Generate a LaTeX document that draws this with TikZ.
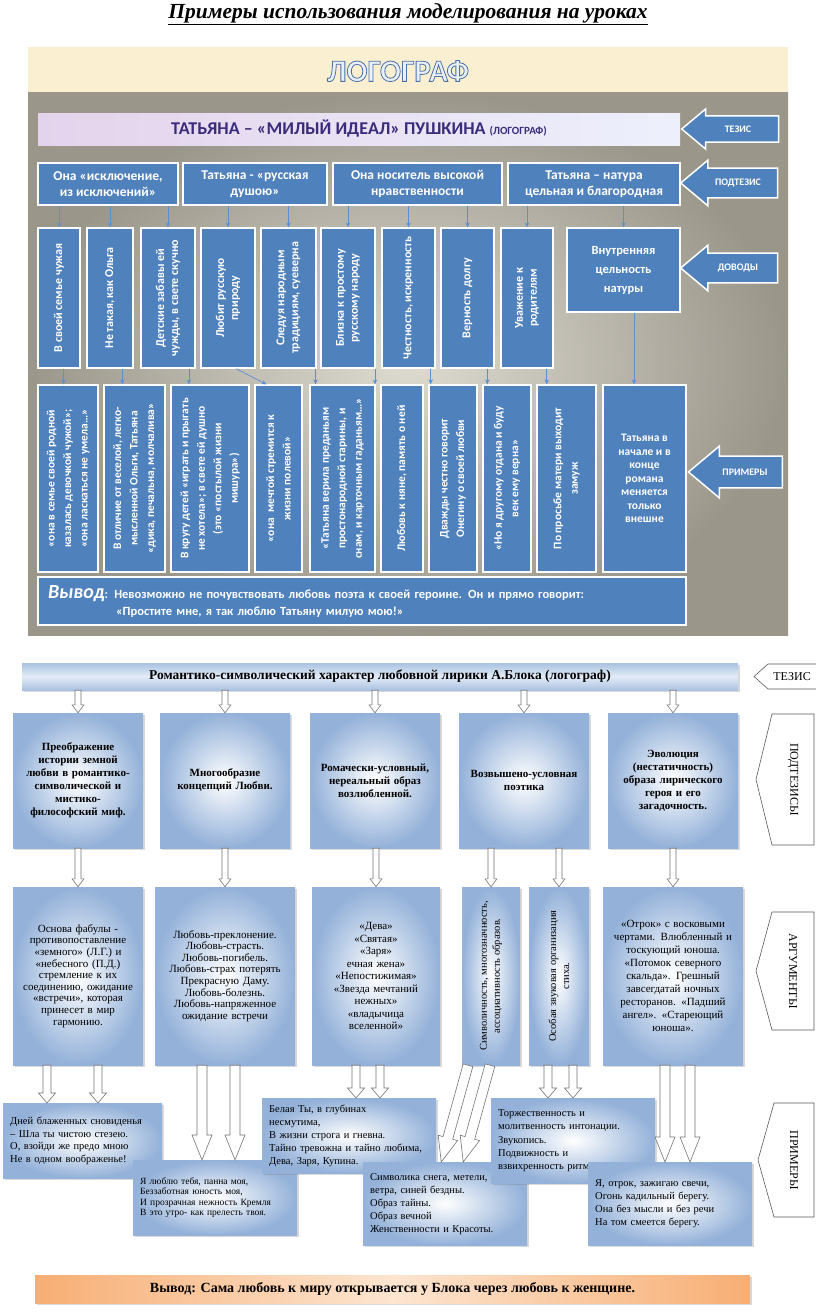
\documentclass[tikz,border=0pt]{standalone}
\usepackage{fontspec}
\setmainfont{Liberation Serif}
\newfontfamily\calfont{Carlito}
\usepackage{graphicx}
\usetikzlibrary{positioning,calc,arrows.meta,shapes.arrows,shadows}

\definecolor{panelgray}{HTML}{9A968A}
\definecolor{panellight}{HTML}{DEDBD1}
\definecolor{cream}{HTML}{FBEFD2}
\definecolor{boxblue}{HTML}{4F81BD}
\definecolor{arrblue}{HTML}{5B8FD3}
\definecolor{thesisink}{HTML}{3A2C7A}
\definecolor{thesisleft}{HTML}{E4D3EC}
\definecolor{thesisright}{HTML}{EDF0FC}
\definecolor{logofill}{HTML}{E9F0FA}
\definecolor{blokblue}{HTML}{93B1D9}
\definecolor{blokbar}{HTML}{A9C2E1}
\definecolor{blokbarlight}{HTML}{E3ECF7}
\definecolor{orangebar}{HTML}{F7AE74}
\definecolor{orangelight}{HTML}{FDE5D0}

\newcommand\fs[2]{\fontsize{#1}{#2}\selectfont}
\newcommand\vtext[2]{\rotatebox{90}{\parbox{#1}{\centering #2}}}
\newcommand\outlined[1]{\special{pdf:literal direct 0.29 0.44 0.65 RG 0.8 w 2 Tr}#1\special{pdf:literal direct 0 Tr}}

\def\shw{3pt}\def\hdlen{8pt}\def\hdwid{6pt}

\tikzset{
  tbox/.style={draw=white, line width=1.3pt, fill=boxblue, text=white, inner sep=0pt,
    align=center, font=\calfont\bfseries\fs{12}{14}},
  arr/.style={draw=arrblue, line width=0.7pt, -{Stealth[length=5pt,width=4.5pt]}},
  tagarrow/.style={single arrow, shape border rotate=180, fill=boxblue, draw=white,
    line width=1.5pt, text=white, font=\calfont\bfseries\fs{10}{12},
    single arrow tip angle=80, inner xsep=4pt},
  bbox/.style={inner color=white, outer color=blokblue, inner sep=0pt, align=center,
    drop shadow={opacity=0.3, shadow xshift=2pt, shadow yshift=-2pt}},
  exbox/.style={bbox, anchor=north west, align=left, inner xsep=7pt, font=\fs{10.5}{12.5}},
  bluebar/.style={top color=blokbar, bottom color=blokbar, middle color=blokbarlight,
    minimum width=716, minimum height=27, inner sep=0pt, font=\bfseries\fs{13.5}{15},
    drop shadow={opacity=0.3, shadow xshift=2pt, shadow yshift=-2pt}},
  orangebar/.style={left color=orangebar, right color=orangebar, middle color=orangelight,
    minimum width=715, minimum height=28, inner sep=0pt, font=\bfseries\fs{14}{15},
    drop shadow={opacity=0.3, shadow xshift=2pt, shadow yshift=-2pt}},
  ptr/.style={draw=black!65, fill=white, line width=0.6pt},
  hollow/.style={draw=black!55, fill=white, line width=0.6pt, to path={
    let \p1=(\tikztostart), \p2=(\tikztotarget),
        \n1={atan2(\y2-\y1,\x2-\x1)} in
    ($(\p1)+(\n1+90:\shw)$) --
    ($(\p2)+(\n1+180:\hdlen)+(\n1+90:\shw)$) --
    ($(\p2)+(\n1+180:\hdlen)+(\n1+90:\hdwid)$) --
    (\p2) --
    ($(\p2)+(\n1+180:\hdlen)+(\n1-90:\hdwid)$) --
    ($(\p2)+(\n1+180:\hdlen)+(\n1-90:\shw)$) --
    ($(\p1)+(\n1-90:\shw)$) -- cycle}},
  midhead/.code={\def\hdlen{10pt}\def\hdwid{8.5pt}\def\shw{4pt}},
  bighead/.code={\def\hdlen{25pt}\def\hdwid{10pt}\def\shw{5pt}},
}

\begin{document}
\begin{tikzpicture}[x=1pt, y=-1pt]
  \useasboundingbox (0,0) rectangle (816,1314);

  % upper picture: Pushkin
  \node[font=\bfseries\itshape\fs{21.5}{22}] (title) at (408,14)
    {\underline{Примеры использования моделирования на уроках}};
  \shade[inner color=panellight, outer color=panelgray] (28,92) rectangle (788,635);
  \fill[cream] (28,47) rectangle (788,92);
  \node[font=\calfont\bfseries\fs{31}{30}, text=logofill] (logo) at (398,71) {\outlined{ЛОГОГРАФ}};

  \node[left color=thesisleft, right color=thesisright, minimum width=642, minimum height=32,
    inner sep=0pt, text=thesisink, font=\calfont\bfseries\fs{18}{20}] (tt) at (359,129)
    {ТАТЬЯНА – «МИЛЫЙ ИДЕАЛ» ПУШКИНА {\fs{11}{13}(ЛОГОГРАФ)}};

  \node[tagarrow, minimum height=97pt, inner ysep=9pt, single arrow head extend=7pt] (tez) at (738,129) {ТЕЗИС};
  \node[tagarrow, minimum height=97pt, inner ysep=10pt, single arrow head extend=8pt] (podtez) at (738,183) {ПОДТЕЗИС};
  \node[tagarrow, minimum height=97pt, inner ysep=10pt, single arrow head extend=8pt] (dovody) at (738,268) {ДОВОДЫ};
  \node[tagarrow, minimum height=94pt, inner ysep=12pt, single arrow head extend=10pt] (primery) at (745,472) {ПРИМЕРЫ};

  \node[tbox, minimum width=140, minimum height=42, font=\calfont\bfseries\fs{13.5}{16}] (s1) at (108,184) {Она «исключение,\\из исключений»};
  \node[tbox, minimum width=144, minimum height=42, font=\calfont\bfseries\fs{13.5}{16}] (s2) at (255,184) {Татьяна - «русская\\душою»};
  \node[tbox, minimum width=169, minimum height=42, font=\calfont\bfseries\fs{13.5}{16}] (s3) at (417.5,184) {Она носитель высокой\\нравственности};
  \node[tbox, minimum width=172, minimum height=42, font=\calfont\bfseries\fs{13.5}{16}] (s4) at (594,184) {Татьяна – натура\\цельная и благородная};

  \node[tbox, minimum width=42, minimum height=140] (d1) at (59,298) {\vtext{132pt}{В своей семье чужая}};
  \node[tbox, minimum width=46, minimum height=140] (d2) at (110,298) {\vtext{132pt}{Не такая, как Ольга}};
  \node[tbox, minimum width=54, minimum height=140] (d3) at (168,298) {\vtext{132pt}{Детские забавы ей\\чужды, в свете скучно}};
  \node[tbox, minimum width=54, minimum height=140] (d4) at (228,298) {\vtext{132pt}{Любит русскую\\природу}};
  \node[tbox, minimum width=55, minimum height=140] (d5) at (288.5,298) {\vtext{132pt}{Следуя народным\\традициям, суеверна}};
  \node[tbox, minimum width=54, minimum height=140] (d6) at (348,298) {\vtext{132pt}{Близка к простому\\русскому народу}};
  \node[tbox, minimum width=53, minimum height=140] (d7) at (408.5,298) {\vtext{132pt}{Честность, искренность}};
  \node[tbox, minimum width=53, minimum height=140] (d8) at (467.5,298) {\vtext{132pt}{Верность долгу}};
  \node[tbox, minimum width=52, minimum height=140] (d9) at (527,298) {\vtext{132pt}{Уважение к\\родителям}};
  \node[tbox, minimum width=113, minimum height=84, font=\calfont\bfseries\fs{12.5}{19}] (d10) at (623.5,270) {Внутренняя\\цельность\\натуры};

  \node[tbox, minimum width=60, minimum height=187, font=\calfont\bfseries\fs{11.5}{16.5}] (e1) at (68,478.5) {\vtext{182pt}{«она в семье своей родной\\казалась девочкой чужой»;\\«она ласкаться не умела…»}};
  \node[tbox, minimum width=61, minimum height=187, font=\calfont\bfseries\fs{11.5}{16.5}] (e2) at (134.5,478.5) {\vtext{182pt}{В отличие от веселой, легко-\\мысленной Ольги, Татьяна\\«дика, печальна, молчалива»}};
  \node[tbox, minimum width=78, minimum height=187, font=\calfont\bfseries\fs{11.5}{16.5}] (e3) at (210,478.5) {\vtext{182pt}{В кругу детей «играть и прыгать\\не хотела»; в свете ей душно\\(это «постылой жизни\\мишура»)}};
  \node[tbox, minimum width=47, minimum height=187, font=\calfont\bfseries\fs{11.5}{16.5}] (e4) at (278.5,478.5) {\vtext{182pt}{«она~ мечтой стремится к\\жизни полевой»}};
  \node[tbox, minimum width=65, minimum height=187, font=\calfont\bfseries\fs{11.5}{16.5}] (e5) at (342.5,478.5) {\vtext{182pt}{«Татьяна верила преданьям\\простонародной старины, и\\снам, и карточным гаданьям…»}};
  \node[tbox, minimum width=42, minimum height=187, font=\calfont\bfseries\fs{11.5}{16.5}] (e6) at (402,478.5) {\vtext{182pt}{Любовь к няне, память о ней}};
  \node[tbox, minimum width=48, minimum height=187, font=\calfont\bfseries\fs{11.5}{16.5}] (e7) at (453,478.5) {\vtext{182pt}{Дважды честно говорит\\Онегину о своей любви}};
  \node[tbox, minimum width=48, minimum height=187, font=\calfont\bfseries\fs{11.5}{16.5}] (e8) at (507,478.5) {\vtext{182pt}{«Но я другому отдана и буду\\век ему верна»}};
  \node[tbox, minimum width=59, minimum height=187, font=\calfont\bfseries\fs{11.5}{16.5}] (e9) at (566.5,478.5) {\vtext{182pt}{По просьбе матери выходит\\замуж}};
  \node[tbox, minimum width=83, minimum height=187, font=\calfont\bfseries\fs{11.5}{13.5}] (e10) at (644.5,478.5) {Татьяна в\\начале и в\\конце\\романа\\меняется\\только\\внешне};

  \node[tbox, minimum width=648, minimum height=48, text width=628, align=left,
    font=\calfont\bfseries\fs{12.5}{17}] (vyv) at (362,601)
    {{\fs{20}{17}\itshape Вывод}: Невозможно не почувствовать любовь поэта к своей героине. Он и прямо говорит:\\
     \hspace*{68pt}«Простите мне, я так люблю Татьяну милую мою!»};

  \begin{scope}[arr]
    \draw (s1.south -| d1) -- (d1);
    \draw (s1.south -| d2) -- (d2);
    \draw (s1.south -| d3) -- (d3);
    \draw (s2.south -| d4) -- (d4);
    \draw (s2.south -| d5) -- (d5);
    \draw (s3.south -| d6) -- (d6);
    \draw (s3.south -| d7) -- (d7);
    \draw (s3.south -| d8) -- (d8);
    \draw (s4.south -| d9) -- (d9);
    \draw (s4.south -| d10) -- (d10);
    \draw ($(d1.south)!.5!(d1.south -| e1)$) -- ($(e1.north)!.5!(e1.north -| d1)$);
    \draw ($(d2.south)!.5!(d2.south -| e2)$) -- ($(e2.north)!.5!(e2.north -| d2)$);
    \draw ($(d3.south)!.5!(d3.south -| e3)$) -- ($(e3.north)!.5!(e3.north -| d3)$);
    \draw ([xshift=8pt]d4.south) -- ([xshift=-12pt]e4.north);
    \draw ($(d5.south)!.5!(d5.south -| e5)$) -- ($(e5.north)!.5!(e5.north -| d5)$);
    \draw ($(d6.south)!.5!(d6.south -| e6)$) -- ($(e6.north)!.5!(e6.north -| d6)$);
    \draw ($(d7.south)!.5!(d7.south -| e7)$) -- ($(e7.north)!.5!(e7.north -| d7)$);
    \draw ($(d8.south)!.5!(d8.south -| e8)$) -- ($(e8.north)!.5!(e8.north -| d8)$);
    \draw ($(d9.south)!.5!(d9.south -| e9)$) -- ($(e9.north)!.5!(e9.north -| d9)$);
    \draw ($(d10.south)!.5!(d10.south -| e10)$) -- ($(e10.north)!.5!(e10.north -| d10)$);
  \end{scope}

  % lower picture: Blok
  \node[bluebar] (bt) at (380,676.5) {Романтико-символический характер любовной лирики А.Блока (логограф)};

  \node[bbox, minimum width=130, minimum height=135, text width=118, font=\bfseries\fs{11}{13}] (b1) at (78,780.5)
    {Преображение\\истории земной\\любви в романтико-\\символической и\\мистико-\\философский миф.};
  \node[bbox, minimum width=130, minimum height=135, text width=118, font=\bfseries\fs{11}{13}] (b2) at (225,780.5)
    {Многообразие\\концепций Любви.};
  \node[bbox, minimum width=130, minimum height=135, text width=118, font=\bfseries\fs{11}{13}] (b3) at (375,780.5)
    {Ромачески-условный,\\нереальный образ\\возлюбленной.\\[8pt]};
  \node[bbox, minimum width=130, minimum height=135, text width=118, font=\bfseries\fs{11}{13}] (b4) at (524,780.5)
    {Возвышено-условная\\поэтика};
  \node[bbox, minimum width=130, minimum height=135, text width=118, font=\bfseries\fs{11}{13}] (b5) at (673,780.5)
    {Эволюция\\(нестатичность)\\образа лирического\\героя и его\\загадочность.\\[4pt]};

  \node[bbox, minimum width=130, minimum height=178, text width=122, font=\fs{11}{11.6}] (a1) at (78,976)
    {Основа фабулы -\\противопоставление\\«земного» (Л.Г.) и\\«небесного (П.Д.)\\стремление к их\\соединению, ожидание\\«встречи», которая\\принесет в мир\\гармонию.};
  \node[bbox, minimum width=140, minimum height=178, text width=132, font=\fs{11}{11.6}] (a2) at (225,976)
    {Любовь-преклонение.\\Любовь-страсть.\\Любовь-погибель.\\Любовь-страх потерять\\Прекрасную Даму.\\Любовь-болезнь.\\Любовь-напряженное\\ожидание встречи\\[14pt]};
  \node[bbox, minimum width=128, minimum height=178, text width=122, font=\fs{11}{12.5}] (a3) at (376,976)
    {«Дева»\\«Святая»\\«Заря»\\ечная жена»\\«Непостижимая»\\«Звезда мечтаний\\нежных»\\«владычица\\вселенной»};
  \node[bbox, minimum width=58, minimum height=178, font=\fs{10.5}{13}] (a4) at (491,976)
    {\vtext{166pt}{Символичность, многозначность,\\ассоциативность образов.}};
  \node[bbox, minimum width=60, minimum height=178, font=\fs{10.5}{13}] (a5) at (559,976)
    {\vtext{166pt}{Особая звуковая организация\\стиха.}};
  \node[bbox, minimum width=140, minimum height=178, text width=132, font=\fs{11}{13}] (a6) at (673,976)
    {«Отрок» с восковыми\\чертами. Влюбленный и\\тоскующий юноша.\\«Потомок северного\\скальда». Грешный\\завсегдатай ночных\\ресторанов. «Падший\\ангел». «Стареющий\\юноша».};

  \node[exbox, minimum width=157, minimum height=75, text width=145] (ex1) at (3,1103)
    {Дней блаженных сновиденья\\– Шла ты чистою стезею.\\О, взойди же предо мною\\Не в одном воображенье!};
  \node[exbox, minimum width=163, minimum height=75, text width=150, font=\fs{9.5}{10.5}] (ex2) at (133,1160)
    {Я люблю тебя, панна моя,\\Беззаботная юность моя,\\И прозрачная нежность Кремля\\В это утро- как прелесть твоя.\\[12pt]};
  \node[exbox, minimum width=171, minimum height=75, text width=160, font=\fs{10.5}{13}] (ex3) at (262,1098)
    {Белая Ты, в глубинах\\несмутима,\\В жизни строга и гневна.\\Тайно тревожна и тайно любима,\\Дева, Заря, Купина.};
  \node[exbox, minimum width=163, minimum height=83, text width=150, font=\fs{10.5}{13}] (ex4) at (363,1162)
    {Символика снега, метели,\\ветра, синей бездны.\\Образ тайны.\\Образ вечной\\Женственности и Красоты.};
  \node[exbox, minimum width=162, minimum height=85, text width=150, font=\fs{10.5}{13.3}] (ex5) at (491,1098)
    {Торжественность и\\молитвенность интонации.\\Звукопись.\\Подвижность и\\взвихренность ритма.};
  \node[exbox, minimum width=163, minimum height=83, text width=150, font=\fs{10.5}{13}] (ex6) at (588,1162)
    {Я, отрок, зажигаю свечи,\\Огонь кадильный берегу.\\Она без мысли и без речи\\На том смеется берегу.\\[8pt]};

  \draw[hollow] (bt.south -| b1) to (b1.north);
  \draw[hollow] (bt.south -| b2) to (b2.north);
  \draw[hollow] (bt.south -| b3) to (b3.north);
  \draw[hollow] (bt.south -| b4) to (b4.north);
  \draw[hollow] (bt.south -| b5) to (b5.north);
  \draw[hollow] (b1.south -| a1) to (a1.north);
  \draw[hollow] (b2.south -| a2) to (a2.north);
  \draw[hollow] (b3.south -| a3) to (a3.north);
  \draw[hollow] (b4.south -| a4) to (a4.north);
  \draw[hollow] (b4.south -| a5) to (a5.north);
  \draw[hollow] (b5.south -| a6) to (a6.north);

  \draw[hollow, midhead] ([xshift=-31pt]a1.south) to ([xshift=-31pt]a1.south |- ex1.north);
  \draw[hollow, midhead] ([xshift=20pt]a1.south) to ([xshift=20pt]a1.south |- ex1.north);
  \draw[hollow, bighead] ([xshift=-23pt]a2.south) to ([xshift=-23pt]a2.south |- ex2.north);
  \draw[hollow, bighead] ([xshift=10pt]a2.south) to ([xshift=10pt]a2.south |- ex2.north);
  \draw[hollow, midhead] ([xshift=-20pt]a3.south) to ([xshift=-20pt]a3.south |- ex3.north);
  \draw[hollow, midhead] ([xshift=4pt]a3.south) to ([xshift=4pt]a3.south |- ex3.north);
  \draw[hollow, bighead] ([xshift=-23pt]a4.south) to ([xshift=-4pt]ex4.north);
  \draw[hollow, bighead] ([xshift=-1pt]a4.south) to ([xshift=18pt]ex4.north);
  \draw[hollow, midhead] ([xshift=-11pt]a5.south) to ([xshift=-11pt]a5.south |- ex5.north);
  \draw[hollow, midhead] ([xshift=14pt]a5.south) to ([xshift=14pt]a5.south |- ex5.north);
  \draw[hollow, bighead] ([xshift=-8pt]a6.south) to ([xshift=-8pt]a6.south |- ex6.north);
  \draw[hollow, bighead] ([xshift=17pt]a6.south) to ([xshift=17pt]a6.south |- ex6.north);

  \draw[ptr] (768,664) -- (820,664) -- (820,689) -- (768,689) -- (754,676.5) -- cycle;
  \node[font=\fs{12}{14}] (ptez) at (792,676.5) {ТЕЗИС};
  \draw[ptr] (772,714) -- (814,714) -- (814,845) -- (772,845) -- (756,779.5) -- cycle;
  \node[font=\fs{12}{14}] (ppodtez) at (793,779.5) {\rotatebox{-90}{ПОДТЕЗИСЫ}};
  \draw[ptr] (772,912) -- (814,912) -- (814,1030) -- (772,1030) -- (756,971) -- cycle;
  \node[font=\fs{12}{14}] (parg) at (793,971) {\rotatebox{-90}{АРГУМЕНТЫ}};
  \draw[ptr] (774,1103) -- (814,1103) -- (814,1217) -- (774,1217) -- (758,1160) -- cycle;
  \node[font=\fs{12}{14}] (pprim) at (794,1160) {\rotatebox{-90}{ПРИМЕРЫ}};

  \node[orangebar] (bv) at (392.5,1289) {Вывод: Сама любовь к миру открывается у Блока через любовь к женщине.};
\end{tikzpicture}
\end{document}
